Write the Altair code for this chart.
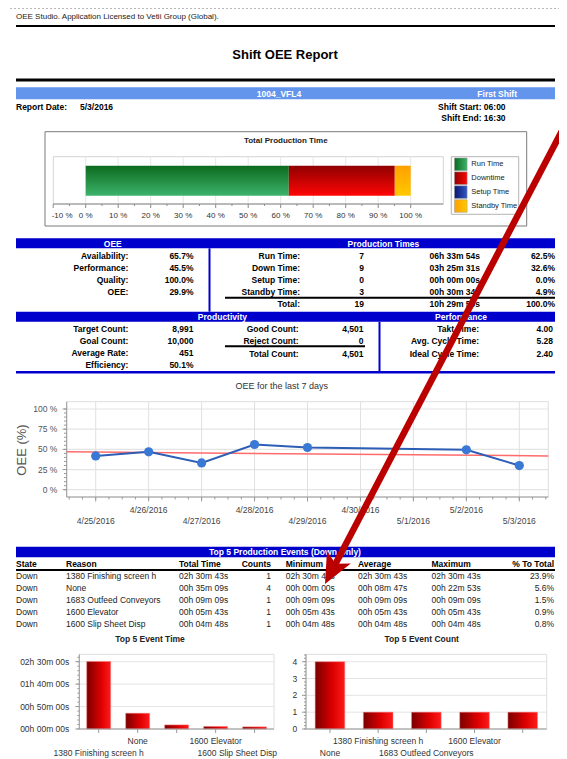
import altair as alt
import pandas as pd

# ---------------- data ----------------
app_text = "OEE Studio. Application Licensed to Vetii Group (Global)."
report_title = "Shift OEE Report"
line_name = "1004_VFL4"
shift_name = "First Shift"
report_date = "5/3/2016"
shift_start = "06:00"
shift_end = "16:30"

prod_states = ["Run Time", "Downtime", "Setup Time", "Standby Time"]
prod_pct = [62.5, 32.6, 0.0, 4.9]
prod_ticks = [-10, 0, 10, 20, 30, 40, 50, 60, 70, 80, 90, 100]

oee_labels = ["Availability:", "Performance:", "Quality:", "OEE:"]
oee_values = ["65.7%", "45.5%", "100.0%", "29.9%"]

pt_labels = ["Run Time:", "Down Time:", "Setup Time:", "Standby Time:", "Total:"]
pt_counts = ["7", "9", "0", "3", "19"]
pt_times = ["06h 33m 54s", "03h 25m 31s", "00h 00m 00s", "00h 30m 34s", "10h 29m 59s"]
pt_pct = ["62.5%", "32.6%", "0.0%", "4.9%", "100.0%"]

pv_labels = ["Target Count:", "Goal Count:", "Average Rate:", "Efficiency:"]
pv_values = ["8,991", "10,000", "451", "50.1%"]
cnt_labels = ["Good Count:", "Reject Count:", "Total Count:"]
cnt_values = ["4,501", "0", "4,501"]
perf_labels = ["Takt Time:", "Avg. Cycle Time:", "Ideal Cycle Time:"]
perf_values = ["4.00", "5.28", "2.40"]

oee_dates = ["4/25/2016", "4/26/2016", "4/27/2016", "4/28/2016", "4/29/2016", "5/2/2016", "5/3/2016"]
oee_pct = [41.9, 46.9, 33.2, 56.0, 52.3, 49.4, 29.9]
trend_dates = ["2016-04-24T10:50:00Z", "2016-05-03T13:10:00Z"]
trend_pct = [46.9, 41.9]
date_ticks = ["4/25/2016", "4/26/2016", "4/27/2016", "4/28/2016", "4/29/2016",
              "4/30/2016", "5/1/2016", "5/2/2016", "5/3/2016"]
oee_ticks = [0, 25, 50, 75, 100]

ev_headers = ["State", "Reason", "Total Time", "Counts", "Minimum", "Average", "Maximum", "% To Total"]
ev_state = ["Down", "Down", "Down", "Down", "Down"]
ev_reason = ["1380 Finishing screen h", "None", "1683 Outfeed Conveyors", "1600 Elevator", "1600 Slip Sheet Disp"]
ev_total = ["02h 30m 43s", "00h 35m 09s", "00h 09m 09s", "00h 05m 43s", "00h 04m 48s"]
ev_counts = [1, 4, 1, 1, 1]
ev_min = ["02h 30m 43s", "00h 00m 00s", "00h 09m 09s", "00h 05m 43s", "00h 04m 48s"]
ev_avg = ["02h 30m 43s", "00h 08m 47s", "00h 09m 09s", "00h 05m 43s", "00h 04m 48s"]
ev_max = ["02h 30m 43s", "00h 22m 53s", "00h 09m 09s", "00h 05m 43s", "00h 04m 48s"]
ev_pct = ["23.9%", "5.6%", "1.5%", "0.9%", "0.8%"]

time_ticks = [0, 3000, 6000, 9000]
time_tick_labels = ["00h 00m 00s", "00h 50m 00s", "01h 40m 00s", "02h 30m 00s"]
count_ticks = [0, 1, 2, 3, 4]

# ---------------- style / layout ----------------
OX, OY = 8, 8
W, H = 551, 751
FONT = "Liberation Sans"
BLUE = "#0000CC"
LBLUE = "#6495ED"
PROD_GRAD = {"Run Time": ("#0b6a1d", "#3db36c"), "Downtime": ("#8f0000", "#ff0505"),
             "Setup Time": ("#0a1670", "#3357c4"), "Standby Time": ("#ffa000", "#ffc800")}


def px(v):
    return round(v - OX, 2)


def py(v):
    return round(v - OY, 2)


ONE = alt.Data(values=[{"k": 0}])


def grad(stops, vertical=True):
    return {"gradient": "linear",
            "stops": [{"offset": o, "color": c} for o, c in stops],
            "x1": 0, "y1": 0, "x2": 0 if vertical else 1, "y2": 1 if vertical else 0}


RED_GRAD = grad([(0, "#7a0000"), (0.6, "#dd0000"), (1, "#ff1a1a")], vertical=False)


def rect(x0, y0, x1, y1, fill="#ffffff", stroke=None, sw=1, fop=1):
    kw = dict(fill=fill, fillOpacity=fop)
    if stroke:
        kw.update(stroke=stroke, strokeWidth=sw)
    return alt.Chart(ONE).mark_rect(**kw).encode(
        x=alt.value(px(x0)), x2=alt.value(px(x1)), y=alt.value(py(y0)), y2=alt.value(py(y1)))


def hrule(x0, x1, y, color="#000000", sw=1, dash=None):
    kw = dict(color=color, strokeWidth=sw)
    if dash:
        kw["strokeDash"] = dash
    return alt.Chart(ONE).mark_rule(**kw).encode(
        x=alt.value(px(x0)), x2=alt.value(px(x1)), y=alt.value(py(y)))


def vrule(x, y0, y1, color="#000000", sw=1):
    return alt.Chart(ONE).mark_rule(color=color, strokeWidth=sw).encode(
        x=alt.value(px(x)), y=alt.value(py(y0)), y2=alt.value(py(y1)))


def txt(x, y, s, size=8.5, bold=False, align="left", color="#000000", angle=None):
    kw = dict(text=s, font=FONT, fontSize=size, fontWeight="bold" if bold else "normal",
              align=align, baseline="middle", color=color)
    if angle is not None:
        kw["angle"] = angle
    return alt.Chart(ONE).mark_text(**kw).encode(x=alt.value(px(x)), y=alt.value(py(y)))


def col(values, x, y0, y1, align="right", bold=True, color="#000000", size=8.5):
    df = pd.DataFrame({"row": list(range(len(values))), "v": [str(v) for v in values]})
    return alt.Chart(df).mark_text(align=align, baseline="middle", font=FONT, fontSize=size,
                                   fontWeight="bold" if bold else "normal", color=color).encode(
        x=alt.value(px(x)),
        y=alt.Y("row:O", scale=alt.Scale(type="point", range=[py(y0), py(y1)], padding=0), axis=None),
        text="v:N")


def iso(label):
    return pd.to_datetime(label, format="%m/%d/%Y").strftime("%Y-%m-%dT%H:%M:%SZ")


def ms(label):
    return int(pd.to_datetime(label, format="%m/%d/%Y").tz_localize("UTC").value // 10**6)


def secs(s):
    h, m, s_ = [int(p[:-1]) for p in s.split()]
    return h * 3600 + m * 60 + s_


layers = []

# ---------------- header ----------------
layers += [
    hrule(10, 567, 8.5, "#b8b8b8", 1, dash=[2, 2]),
    txt(16, 17, app_text, size=8, color="#222222"),
    hrule(16, 555, 26, "#000000", 2),
    txt(285, 55, report_title, size=13, bold=True, align="center"),
    hrule(16, 555, 80, "#000000", 3),
    rect(16, 87.3, 555, 99.3, fill=LBLUE),
    txt(279, 93.5, line_name, bold=True, align="center", color="#ffffff"),
    txt(517, 93.5, shift_name, bold=True, align="right", color="#ffffff"),
    txt(16, 106.7, "Report Date:", bold=True),
    txt(80, 106.7, report_date, bold=True),
    txt(505.6, 106.7, "Shift Start: " + shift_start, bold=True, align="right"),
    txt(505.6, 118, "Shift End: " + shift_end, bold=True, align="right"),
]

# ---------------- total production time ----------------
PX = alt.Scale(domain=[0, 100], range=[px(85.7), px(410.7)], nice=False, zero=False)
prod_df = pd.DataFrame({"state": prod_states, "pct": prod_pct, "order": list(range(len(prod_states)))})
ptick_df = pd.DataFrame({"t": prod_ticks, "lab": [f"{t} %" for t in prod_ticks], "i": list(range(len(prod_ticks)))})
pminor_df = pd.DataFrame({"t": [t + 5 for t in prod_ticks[:-1]]})

layers += [
    rect(45, 131.7, 526.7, 226, fill="#ffffff", stroke="#7a7a7a", sw=1),
    txt(285.8, 140.7, "Total Production Time", size=8, bold=True, align="center", color="#222222"),
    rect(53.3, 156.7, 443.3, 204, fill="#ffffff", stroke="#d4d4d4", sw=1),
    alt.Chart(ptick_df).transform_filter("datum.i > 0").mark_rule(color="#e6e6e6").encode(
        x=alt.X("t:Q", scale=PX, axis=None), y=alt.value(py(156.7)), y2=alt.value(py(204))),
]
for s in prod_states:
    c0, c1 = PROD_GRAD[s]
    layers.append(
        alt.Chart(prod_df)
        .transform_window(cum="sum(pct)", sort=[alt.SortField("order")], frame=[None, 0])
        .transform_calculate(start="datum.cum - datum.pct")
        .transform_filter(alt.datum.state == s)
        .mark_rect(color=grad([(0, c0), (1, c1)], vertical=True))
        .encode(x=alt.X("start:Q", scale=PX, axis=None), x2="cum:Q",
                y=alt.value(py(165.7)), y2=alt.value(py(195.7)))
    )
layers += [
    hrule(53.3, 443.3, 204, "#8a8a8a", 1),
    alt.Chart(ptick_df).mark_rule(color="#8a8a8a").encode(
        x=alt.X("t:Q", scale=PX, axis=None), y=alt.value(py(204)), y2=alt.value(py(208))),
    alt.Chart(pminor_df).mark_rule(color="#8a8a8a").encode(
        x=alt.X("t:Q", scale=PX, axis=None), y=alt.value(py(204)), y2=alt.value(py(206))),
    alt.Chart(ptick_df).transform_filter("datum.i > 0").mark_text(
        font=FONT, fontSize=8, color="#333333", align="center", baseline="middle").encode(
        x=alt.X("t:Q", scale=PX, axis=None), y=alt.value(py(215.7)), text="lab:N"),
    alt.Chart(ptick_df).transform_filter("datum.i == 0").mark_text(
        font=FONT, fontSize=8, color="#333333", align="left", baseline="middle", dx=-1.5).encode(
        x=alt.X("t:Q", scale=PX, axis=None), y=alt.value(py(215.7)), text="lab:N"),
    rect(451.3, 156.7, 518.7, 214.3, fill="#ffffff", stroke="#b4b4b4", sw=1),
]
LEG_Y = alt.Scale(type="point", domain=prod_states, range=[py(164.3), py(206)], padding=0)
for s in prod_states:
    c0, c1 = PROD_GRAD[s]
    layers.append(
        alt.Chart(prod_df).transform_filter(alt.datum.state == s)
        .mark_square(size=160, opacity=1, color=grad([(0, c0), (1, c1)], vertical=False),
                     stroke="#9a9a9a", strokeWidth=0.5)
        .encode(x=alt.value(px(460.8)), y=alt.Y("state:N", scale=LEG_Y, axis=None))
    )
layers.append(
    alt.Chart(prod_df).mark_text(font=FONT, fontSize=7.5, color="#222222", align="left", baseline="middle")
    .encode(x=alt.value(px(471.3)), y=alt.Y("state:N", scale=LEG_Y, axis=None), text="state:N")
)

# ---------------- OEE / production times ----------------
layers += [
    rect(16, 238.3, 555, 248.3, fill=BLUE),
    txt(112.8, 243.5, "OEE", bold=True, align="center", color="#ffffff"),
    txt(383.4, 243.5, "Production Times", bold=True, align="center", color="#ffffff"),
    vrule(209.5, 248.3, 311.7, BLUE, 2),
    col(oee_labels, 128.4, 255.7, 292),
    col(oee_values, 193.5, 255.7, 292),
    col(pt_labels, 300, 255.7, 304),
    col(pt_counts, 364, 255.7, 304),
    col(pt_times, 480, 255.7, 304),
    col(pt_pct, 555, 255.7, 304),
    hrule(225, 555, 297.7, "#000000", 2),
    rect(16, 311.7, 555, 321.7, fill=BLUE),
    txt(222.4, 316.9, "Productivity", bold=True, align="center", color="#ffffff"),
    txt(461, 316.9, "Performance", bold=True, align="center", color="#ffffff"),
    vrule(379.5, 321.7, 372, BLUE, 2),
    hrule(16, 555, 372.3, BLUE, 2.5),
    col(pv_labels, 128.4, 328.7, 365),
    col(pv_values, 193.5, 328.7, 365),
    col(cnt_labels, 298.7, 328.7, 354),
    col(cnt_values, 363.5, 328.7, 354),
    hrule(225, 365, 346.3, "#000000", 2),
    col(perf_labels, 479, 328.7, 354),
    col(perf_values, 553, 328.7, 354),
]

# ---------------- OEE for the last 7 days ----------------
LX = alt.Scale(type="utc", domain=[ms(date_ticks[0]), ms(date_ticks[-1])], range=[px(95.7), px(519.3)])
LY = alt.Scale(domain=[0, 100], range=[py(489.7), py(409)], nice=False, zero=False)
oee_df = pd.DataFrame({"date": [iso(d) for d in oee_dates], "oee": oee_pct})
trend_df = pd.DataFrame({"date": trend_dates, "oee": trend_pct})
dt_df = pd.DataFrame({"d": [iso(d) for d in date_ticks], "lab": date_ticks, "i": list(range(len(date_ticks)))})
minor_x = pd.DataFrame({"d": [t.strftime("%Y-%m-%dT%H:%M:%SZ") for t in
                              pd.date_range("2016-04-24 12:00", "2016-05-03 12:00", freq="6h")]})
yt_df = pd.DataFrame({"t": oee_ticks, "lab": [f"{t} %" for t in oee_ticks]})
yminor_df = pd.DataFrame({"t": list(range(0, 101, 5))})

layers += [
    txt(281.7, 385.7, "OEE for the last 7 days", size=9, align="center", color="#333333"),
    rect(66.7, 401.7, 548.3, 497, fill="#ffffff", stroke="#dedede", sw=1),
    alt.Chart(yt_df).mark_rule(color="#e4e4e4", strokeWidth=1.2).encode(
        y=alt.Y("t:Q", scale=LY, axis=None), x=alt.value(px(66.7)), x2=alt.value(px(548.3))),
    alt.Chart(dt_df).mark_rule(color="#e0e0e0").encode(
        x=alt.X("d:T", scale=LX, axis=None), y=alt.value(py(401.7)), y2=alt.value(py(497))),
    vrule(66.7, 401.7, 497, "#9a9a9a", 1),
    hrule(66.7, 548.3, 497, "#9a9a9a", 1),
    alt.Chart(yminor_df).mark_rule(color="#9a9a9a").encode(
        y=alt.Y("t:Q", scale=LY, axis=None), x=alt.value(px(64)), x2=alt.value(px(66.7))),
    alt.Chart(yt_df).mark_rule(color="#9a9a9a").encode(
        y=alt.Y("t:Q", scale=LY, axis=None), x=alt.value(px(62.5)), x2=alt.value(px(66.7))),
    alt.Chart(minor_x).mark_rule(color="#9a9a9a").encode(
        x=alt.X("d:T", scale=LX, axis=None), y=alt.value(py(497)), y2=alt.value(py(499.5))),
    alt.Chart(dt_df).mark_rule(color="#9a9a9a").encode(
        x=alt.X("d:T", scale=LX, axis=None), y=alt.value(py(497)), y2=alt.value(py(501.5))),
    alt.Chart(yt_df).mark_text(font=FONT, fontSize=8.5, color="#555555", align="right", baseline="middle").encode(
        y=alt.Y("t:Q", scale=LY, axis=None), x=alt.value(px(57.3)), text="lab:N"),
    txt(21.7, 450, "OEE (%)", size=13, align="center", color="#555555", angle=270),
    alt.Chart(dt_df).transform_filter("datum.i % 2 == 1").mark_text(
        font=FONT, fontSize=8.5, color="#444444", align="center", baseline="middle").encode(
        x=alt.X("d:T", scale=LX, axis=None), y=alt.value(py(510)), text="lab:N"),
    alt.Chart(dt_df).transform_filter("datum.i % 2 == 0").mark_text(
        font=FONT, fontSize=8.5, color="#444444", align="center", baseline="middle").encode(
        x=alt.X("d:T", scale=LX, axis=None), y=alt.value(py(521)), text="lab:N"),
    alt.Chart(trend_df).mark_line(color="#ff6b6b", strokeWidth=1.5).encode(
        x=alt.X("date:T", scale=LX, axis=None), y=alt.Y("oee:Q", scale=LY, axis=None)),
    alt.Chart(oee_df).mark_line(color="#2d5eb5", strokeWidth=2).encode(
        x=alt.X("date:T", scale=LX, axis=None), y=alt.Y("oee:Q", scale=LY, axis=None)),
    alt.Chart(oee_df).mark_circle(size=85, color="#3a78d6", opacity=1).encode(
        x=alt.X("date:T", scale=LX, axis=None), y=alt.Y("oee:Q", scale=LY, axis=None)),
]

# ---------------- Top 5 production events table ----------------
R0, R1 = 576, 624
layers += [
    rect(16, 546.7, 555, 557.3, fill=BLUE),
    txt(285, 552.2, "Top 5 Production Events (Down Only)", bold=True, align="center", color="#ffffff"),
    txt(16, 564, ev_headers[0], bold=True),
    txt(66, 564, ev_headers[1], bold=True),
    txt(179, 564, ev_headers[2], bold=True),
    txt(271, 564, ev_headers[3], bold=True, align="right"),
    txt(285.7, 564, ev_headers[4], bold=True),
    txt(358, 564, ev_headers[5], bold=True),
    txt(431.5, 564, ev_headers[6], bold=True),
    txt(554, 564, ev_headers[7], bold=True, align="right"),
    hrule(16, 555, 570, "#000000", 2),
    col(ev_state, 16, R0, R1, align="left", bold=False, color="#222222"),
    col(ev_reason, 66, R0, R1, align="left", bold=False, color="#222222"),
    col(ev_total, 179, R0, R1, align="left", bold=False, color="#222222"),
    col(ev_counts, 271, R0, R1, align="right", bold=False, color="#222222"),
    col(ev_min, 285.7, R0, R1, align="left", bold=False, color="#222222"),
    col(ev_avg, 358, R0, R1, align="left", bold=False, color="#222222"),
    col(ev_max, 431.5, R0, R1, align="left", bold=False, color="#222222"),
    col(ev_pct, 554, R0, R1, align="right", bold=False, color="#222222"),
]


# ---------------- bottom bar charts ----------------
def bar_panel(df, field, order, x0, x1, ymax_val, ymax_px, ticks, tick_labels, lab_x, title, title_x,
              hidden=(), right_clamp=()):
    XS = alt.Scale(type="band", domain=order, range=[px(x0), px(x1)], paddingInner=0.385, paddingOuter=0.19)
    YS = alt.Scale(domain=[0, ymax_val], range=[py(729), py(ymax_px)], nice=False, zero=False)
    tdf = pd.DataFrame({"t": ticks, "lab": tick_labels})
    step = ticks[1] - ticks[0]
    mdf = pd.DataFrame({"t": [ticks[0] + k * step / 5 for k in range(int((ymax_val * 1.1 - ticks[0]) / (step / 5)) + 1)]})
    ldf = pd.DataFrame({"reason": order, "i": list(range(len(order)))})
    ldf_show = ldf[~ldf.i.isin(list(hidden) + list(right_clamp))]
    ldf_clamp = ldf[ldf.i.isin(list(right_clamp))]
    out = [
        txt(title_x, 639.3, title, size=8.5, bold=True, align="center", color="#222222"),
        rect(x0, 654.3, x1, 729, fill="#ffffff", stroke="#dedede", sw=1),
        alt.Chart(tdf).mark_rule(color="#e4e4e4").encode(
            y=alt.Y("t:Q", scale=YS, axis=None), x=alt.value(px(x0)), x2=alt.value(px(x1))),
        alt.Chart(df).mark_bar(color=RED_GRAD, stroke="#ff8080", strokeWidth=0.5).encode(
            x=alt.X("reason:N", scale=XS, axis=None), y=alt.Y(field + ":Q", scale=YS, axis=None)),
        vrule(x0, 654.3, 729, "#9a9a9a", 1),
        hrule(x0, x1, 729, "#9a9a9a", 1),
        alt.Chart(mdf).transform_filter(f"datum.t <= {ymax_val * 1.1}").mark_rule(color="#9a9a9a").encode(
            y=alt.Y("t:Q", scale=YS, axis=None), x=alt.value(px(x0 - 2)), x2=alt.value(px(x0))),
        alt.Chart(tdf).mark_rule(color="#9a9a9a").encode(
            y=alt.Y("t:Q", scale=YS, axis=None), x=alt.value(px(x0 - 4)), x2=alt.value(px(x0))),
        alt.Chart(ldf).mark_rule(color="#9a9a9a").encode(
            x=alt.X("reason:N", scale=XS, axis=None), y=alt.value(py(729)), y2=alt.value(py(733))),
        alt.Chart(tdf).mark_text(font=FONT, fontSize=8.5, color="#333333", align="right", baseline="middle").encode(
            y=alt.Y("t:Q", scale=YS, axis=None), x=alt.value(px(lab_x)), text="lab:N"),
    ]
    for parity, yv in ((1, 740.7), (0, 752.5)):
        sub = ldf_show[ldf_show.i % 2 == parity]
        if len(sub):
            out.append(alt.Chart(sub).mark_text(font=FONT, fontSize=8.5, color="#333333", align="center",
                                                baseline="middle").encode(
                x=alt.X("reason:N", scale=XS, axis=None), y=alt.value(py(yv)), text="reason:N"))
    if len(ldf_clamp):
        for _, r in ldf_clamp.iterrows():
            yv = 740.7 if r.i % 2 == 1 else 752.5
            out.append(alt.Chart(ldf_clamp[ldf_clamp.i == r.i]).mark_text(
                font=FONT, fontSize=8.5, color="#333333", align="right", baseline="middle").encode(
                x=alt.value(px(x1 + 3)), y=alt.value(py(yv)), text="reason:N"))
    return out


t_df = pd.DataFrame({"reason": ev_reason, "sec": [secs(t) for t in ev_total]}) \
    .sort_values("sec", ascending=False, kind="stable").reset_index(drop=True)
c_df = pd.DataFrame({"reason": ev_reason, "n": ev_counts}) \
    .sort_values("n", ascending=False, kind="stable").reset_index(drop=True)

layers += bar_panel(t_df, "sec", list(t_df.reason), 79.3, 274, 9000, 661.7, time_ticks, time_tick_labels,
                    69.3, "Top 5 Event Time", 150, hidden=(2,), right_clamp=(4,))
layers += bar_panel(c_df, "n", list(c_df.reason), 306, 546.7, 4, 661.7, count_ticks,
                    [str(t) for t in count_ticks], 297.3, "Top 5 Event Count", 421.7, hidden=(4,))

# ---------------- red annotation arrow ----------------
layers += [
    alt.Chart(ONE).mark_rule(color="#BB0000", strokeWidth=6.5, strokeCap="butt").encode(
        x=alt.value(px(575)), y=alt.value(py(106)), x2=alt.value(px(334.9)), y2=alt.value(py(565))),
    alt.Chart(ONE).mark_point(shape="M0,1 L-0.85,-0.9 L0,-0.45 L0.85,-0.9 Z", filled=True, size=1000,
                              angle=27.6, color="#BB0000", opacity=1).encode(
        x=alt.value(px(332.3)), y=alt.value(py(570))),
]

chart = alt.layer(*layers).resolve_scale(
    x="independent", y="independent", color="independent"
).properties(
    width=W, height=H, padding=0, autosize=alt.AutoSizeParams(type="none"),
    background="#ffffff"
).configure_view(stroke=None)

chart.save("out.html", embed_options={"renderer": "svg", "actions": False})
